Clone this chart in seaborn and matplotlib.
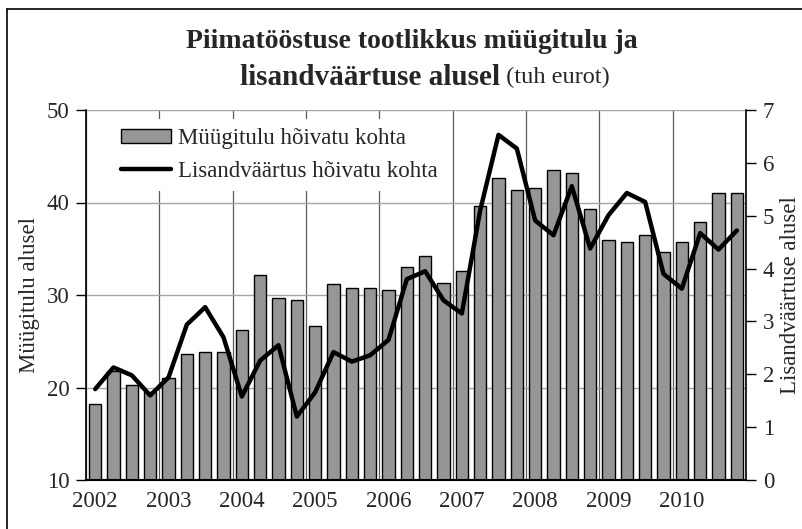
import numpy as np
import pandas as pd
import matplotlib
matplotlib.use("Agg")
import matplotlib.pyplot as plt
from matplotlib.patches import Patch
from matplotlib.lines import Line2D
import seaborn as sns

# quarterly data 2002 I .. 2010 IV
years = [2002, 2003, 2004, 2005, 2006, 2007, 2008, 2009, 2010]
quarters = ["I", "II", "III", "IV"]

# sales revenue per employee (left axis)
myygitulu = [18.2, 21.8, 20.3, 19.5,
             21.0, 23.6, 23.8, 23.8,
             26.2, 32.2, 29.7, 29.5,
             26.7, 31.2, 30.8, 30.8,
             30.5, 33.0, 34.2, 31.3,
             32.6, 39.6, 42.6, 41.4,
             41.6, 43.5, 43.2, 39.3,
             35.9, 35.7, 36.5, 34.6,
             35.7, 37.9, 41.0, 41.0]

# value added per employee (right axis)
lisandvaartus = [1.72, 2.13, 1.98, 1.60,
                 1.94, 2.94, 3.27, 2.70,
                 1.58, 2.26, 2.55, 1.20,
                 1.66, 2.42, 2.24, 2.36,
                 2.65, 3.80, 3.95, 3.40,
                 3.15, 5.10, 6.53, 6.27,
                 4.91, 4.63, 5.56, 4.38,
                 5.01, 5.43, 5.26, 3.90,
                 3.62, 4.67, 4.36, 4.72]

labels = [f"{y} {q}" for y in years for q in quarters]
df = pd.DataFrame({"kvartal": labels,
                   "pos": np.arange(len(labels)),
                   "myygitulu": myygitulu,
                   "lisandvaartus": lisandvaartus})

sns.set_style("white")
plt.rcParams["font.family"] = ["Liberation Serif", "DejaVu Serif"]

W, H = 803, 529
fs = 16.5
fig = plt.figure(figsize=(W / 100, H / 100), dpi=100)
ax = fig.add_axes([86 / W, 1 - 480 / H, 660 / W, 370 / H])

bar_color = "#969696"
sns.barplot(data=df, x="kvartal", y="myygitulu", order=labels,
            color=bar_color, edgecolor="black", linewidth=1.0,
            width=0.66, saturation=1, ax=ax)

ax.set_ylim(10, 50)
ax.set_xlim(-0.5, len(labels) - 0.5)
ax.set_yticks([10, 20, 30, 40, 50])
ax.set_axisbelow(True)
ax.grid(axis="y", color="#a6a6a6", linewidth=1)

# year labels under the first quarter, ticks on year boundaries
ax.set_xticks(np.arange(0, len(labels), 4))
ax.set_xticklabels([str(y) for y in years])
ax.set_xticks(np.arange(-0.5, len(labels), 4), minor=True)
ax.tick_params(axis="x", which="major", length=0, labelsize=fs, pad=8)
ax.tick_params(axis="x", which="minor", length=7, width=1, direction="out",
               color="black")
ax.grid(axis="x", which="minor", color="#5a5a5a", linewidth=0.9)
ax.tick_params(axis="y", length=7, width=1, direction="out", color="black",
               labelsize=fs, left=True, pad=5)
ax.set_xlabel("")
ax.set_ylabel("Müügitulu alusel", fontsize=fs, labelpad=5)

for s in ["top", "right"]:
    ax.spines[s].set_visible(False)
ax.spines["left"].set_color("black")
ax.spines["bottom"].set_color("black")
ax.spines["left"].set_linewidth(1.2)
ax.spines["bottom"].set_linewidth(1.5)

ax2 = ax.twinx()
sns.lineplot(data=df, x="pos", y="lisandvaartus", color="black",
             linewidth=3.2, ax=ax2)
ax2.set_ylim(0, 7)
ax2.set_xlim(-0.5, len(labels) - 0.5)
ax2.set_yticks(range(0, 8))
ax2.tick_params(axis="y", length=7, width=1, direction="out", color="black",
                labelsize=fs, right=True, pad=5)
ax2.set_ylabel("Lisandväärtuse alusel", fontsize=fs, rotation=90, labelpad=4)
ax2.set_xlabel("")
for s in ["top", "left", "bottom"]:
    ax2.spines[s].set_visible(False)
ax2.spines["right"].set_color("black")
ax2.spines["right"].set_linewidth(1.2)

handles = [Patch(facecolor=bar_color, edgecolor="black", linewidth=1.0),
           Line2D([], [], color="black", linewidth=3.2)]
leg = ax2.legend(handles, ["Müügitulu hõivatu kohta", "Lisandväärtus hõivatu kohta"],
                 loc="upper left", bbox_to_anchor=(0.039, 0.976), fontsize=fs,
                 frameon=True, fancybox=False, framealpha=1, facecolor="white",
                 edgecolor="none", handlelength=2.2, handleheight=0.55,
                 handletextpad=0.3, labelspacing=0.5, borderpad=0.4,
                 borderaxespad=0)

# title, two lines, second line partly bold
fig.text(412 / W, 1 - 42 / H, "Piimatööstuse tootlikkus müügitulu ja",
         ha="center", va="center", fontsize=20, fontweight="bold")
t_bold = fig.text(0, 1 - 77 / H, "lisandväärtuse alusel", ha="left",
                  va="center", fontsize=21, fontweight="bold")
t_norm = fig.text(0, 1 - 77 / H, " (tuh eurot)", ha="left", va="center",
                  fontsize=17.5)
fig.canvas.draw()
r = fig.canvas.get_renderer()
wb = t_bold.get_window_extent(r).width
wn = t_norm.get_window_extent(r).width
x0 = 425 - (wb + wn) / 2
t_bold.set_x(x0 / W)
t_norm.set_x((x0 + wb) / W)

# chart border (left and top edges visible)
fig.add_artist(Line2D([7 / W, 7 / W], [0, 1 - 9 / H], color="black",
                      linewidth=1.2, transform=fig.transFigure))
fig.add_artist(Line2D([7 / W, 1], [1 - 9 / H, 1 - 9 / H], color="black",
                      linewidth=1.2, transform=fig.transFigure))

fig.savefig("out.png", dpi=100)
